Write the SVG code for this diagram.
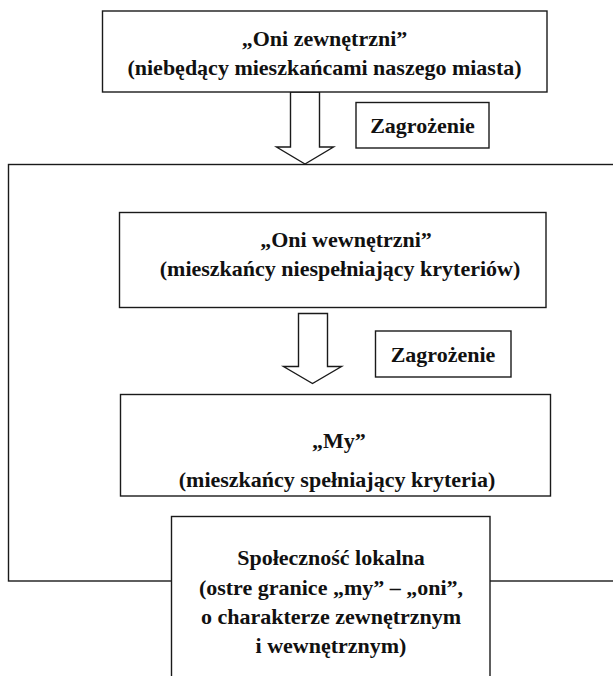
<svg xmlns="http://www.w3.org/2000/svg" width="613" height="676" viewBox="0 0 613 676">
<style>
.box{fill:#fff;stroke:#1a1a1a;stroke-width:1.4}
.frame{fill:none;stroke:#1a1a1a;stroke-width:1.4}
.arrow{fill:#fff;stroke:#1a1a1a;stroke-width:1.4;stroke-linejoin:miter}
.t{font-family:"Liberation Serif","DejaVu Serif",serif;font-weight:bold;font-size:22px;fill:#111;text-anchor:middle}
</style>
<rect width="613" height="676" fill="#fff"/>
<g id="outer-frame">
<rect class="frame" x="8.5" y="164.5" width="620" height="416.5"/>
</g>
<g id="connectors">
<polygon class="arrow" points="290.5,92 319.5,92 319.5,147 333.5,147 305,164 276.5,147 290.5,147"/>
<polygon class="arrow" points="298.5,313.5 327.5,313.5 327.5,366.5 341.5,366.5 312.5,383.5 283.5,366.5 298.5,366.5"/>
</g>
<g id="oni-zewnetrzni">
<rect class="box" x="102.5" y="11" width="444.5" height="81"/>
<text class="t" x="324.5" y="46">„Oni zewnętrzni”</text>
<text class="t" x="324.5" y="75">(niebędący mieszkańcami naszego miasta)</text>
</g>
<g id="zagrozenie-1">
<rect class="box" x="356" y="102.5" width="133" height="45.5"/>
<text class="t" x="422.5" y="133">Zagrożenie</text>
</g>
<g id="oni-wewnetrzni">
<rect class="box" x="119.5" y="212.5" width="426.5" height="95"/>
<text class="t" x="346" y="247">„Oni wewnętrzni”</text>
<text class="t" x="340" y="276">(mieszkańcy niespełniający kryteriów)</text>
</g>
<g id="zagrozenie-2">
<rect class="box" x="375.5" y="331" width="135.5" height="46"/>
<text class="t" x="443" y="362">Zagrożenie</text>
</g>
<g id="my">
<rect class="box" x="120.5" y="394.5" width="430" height="101.5"/>
<text class="t" x="339" y="448">„My”</text>
<text class="t" x="337" y="487">(mieszkańcy spełniający kryteria)</text>
</g>
<g id="spolecznosc-lokalna">
<rect class="box" x="171.5" y="516.5" width="318.5" height="175"/>
<text class="t" x="331" y="565">Społeczność lokalna</text>
<text class="t" x="331" y="595">(ostre granice „my” – „oni”,</text>
<text class="t" x="331" y="624">o charakterze zewnętrznym</text>
<text class="t" x="331" y="653">i wewnętrznym)</text>
</g>
</svg>
